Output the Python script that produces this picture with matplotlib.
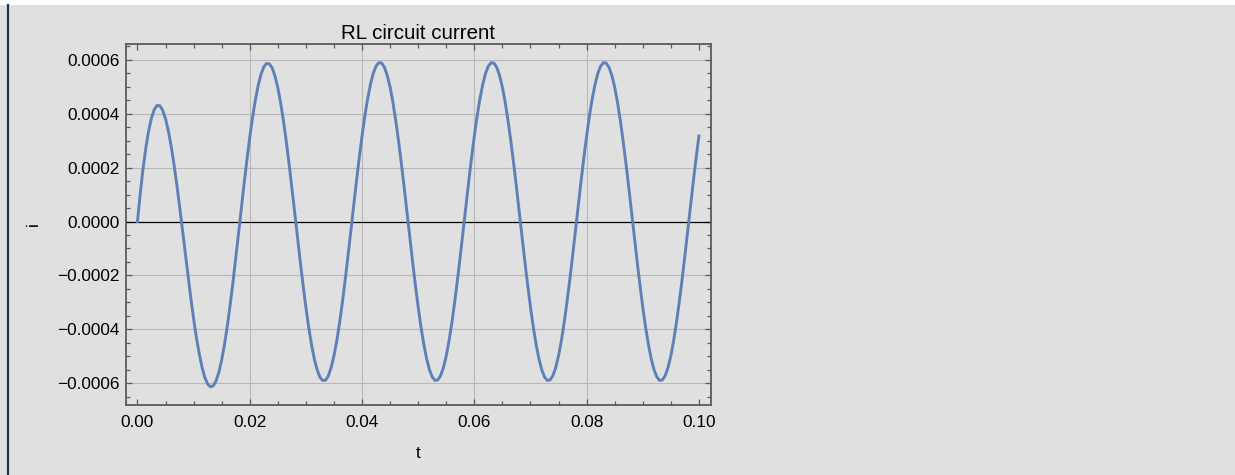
import numpy as np
import matplotlib.pyplot as plt
from matplotlib.ticker import MultipleLocator, FuncFormatter
from matplotlib.lines import Line2D
from matplotlib.patches import Rectangle

plt.rcParams['font.family'] = ['Liberation Sans', 'DejaVu Sans']

# time samples, every 0.0005 s from 0 to 0.1 s
t = np.linspace(0.0, 0.1, 201)

# current, in units of 1e-4 A
current_e4 = [
    0.00, 1.04, 1.96, 2.74, 3.36, 3.84, 4.15, 4.30, 4.29, 4.12,
    3.81, 3.36, 2.80, 2.13, 1.38, 0.57, -0.28, -1.14, -2.00, -2.83,
    -3.60, -4.30, -4.90, -5.40, -5.78, -6.02, -6.13, -6.09, -5.91, -5.59,
    -5.13, -4.56, -3.88, -3.11, -2.27, -1.37, -0.45, 0.49, 1.41, 2.29,
    3.11, 3.86, 4.50, 5.04, 5.45, 5.73, 5.86, 5.84, 5.69, 5.39,
    4.96, 4.40, 3.74, 2.98, 2.15, 1.26, 0.35, -0.58, -1.49, -2.36,
    -3.18, -3.92, -4.56, -5.09, -5.49, -5.77, -5.89, -5.88, -5.72, -5.41,
    -4.98, -4.42, -3.76, -3.00, -2.16, -1.28, -0.36, 0.56, 1.48, 2.35,
    3.17, 3.91, 4.55, 5.08, 5.49, 5.76, 5.89, 5.87, 5.71, 5.41,
    4.98, 4.42, 3.75, 2.99, 2.16, 1.28, 0.36, -0.57, -1.48, -2.35,
    -3.17, -3.91, -4.55, -5.08, -5.49, -5.76, -5.89, -5.87, -5.71, -5.41,
    -4.98, -4.42, -3.75, -2.99, -2.16, -1.28, -0.36, 0.57, 1.48, 2.35,
    3.17, 3.91, 4.55, 5.08, 5.49, 5.76, 5.89, 5.87, 5.71, 5.41,
    4.98, 4.42, 3.75, 2.99, 2.16, 1.28, 0.36, -0.57, -1.48, -2.35,
    -3.17, -3.91, -4.55, -5.08, -5.49, -5.76, -5.89, -5.87, -5.71, -5.41,
    -4.98, -4.42, -3.75, -2.99, -2.16, -1.28, -0.36, 0.57, 1.48, 2.35,
    3.17, 3.91, 4.55, 5.08, 5.49, 5.76, 5.89, 5.87, 5.71, 5.41,
    4.98, 4.42, 3.75, 2.99, 2.16, 1.28, 0.36, -0.57, -1.48, -2.35,
    -3.17, -3.91, -4.55, -5.08, -5.49, -5.76, -5.89, -5.87, -5.71, -5.41,
    -4.98, -4.42, -3.75, -2.99, -2.16, -1.28, -0.36, 0.57, 1.48, 2.35,
    3.17,
]
current = np.array(current_e4) * 1e-4

t_ticks = [0.00, 0.02, 0.04, 0.06, 0.08, 0.10]
i_ticks = [-0.0006, -0.0004, -0.0002, 0.0, 0.0002, 0.0004, 0.0006]
t_grid = [0.02, 0.04, 0.06, 0.08]
i_grid = [-0.0006, -0.0004, -0.0002, 0.0002, 0.0004, 0.0006]

bg = '#e0e0e0'
frame_col = '#5a5a5a'

fig = plt.figure(figsize=(12.35, 4.75), dpi=100, facecolor=bg)
ax = fig.add_axes([0.10202, 0.14737, 0.47344, 0.76063])
ax.set_facecolor(bg)

# white strip on top and the dark bar on the left edge
fig.patches.append(Rectangle((0, 1 - 4.5 / 475), 1, 4.5 / 475, transform=fig.transFigure,
                             facecolor='white', edgecolor='none'))
fig.lines.append(Line2D([8 / 1235, 8 / 1235], [0, 1 - 4.5 / 475], transform=fig.transFigure,
                        color='#1b3155', lw=1.6))

for g in t_grid:
    ax.axvline(g, color='#b9b9b9', lw=0.8, zorder=1)
for g in i_grid:
    ax.axhline(g, color='#b9b9b9', lw=0.8, zorder=1)
ax.axhline(0, color='black', lw=0.9, zorder=2)

ax.plot(t, current, color='#5e81b5', lw=2.1, zorder=3)

ax.set_xlim(-0.00204, 0.1021)
ax.set_ylim(-0.00068, 0.000659)

ax.set_xticks(t_ticks)
ax.set_yticks(i_ticks)
ax.xaxis.set_minor_locator(MultipleLocator(0.005))
ax.yaxis.set_minor_locator(MultipleLocator(0.00005))
ax.xaxis.set_major_formatter(FuncFormatter(lambda v, p: '%.2f' % v))
ax.yaxis.set_major_formatter(FuncFormatter(lambda v, p: ('%.4f' % v).replace('-', '\u2212')))

ax.tick_params(which='both', direction='in', top=True, right=True,
               color=frame_col, width=0.9, labelsize=12.4)
ax.tick_params(which='major', length=4.5)
ax.tick_params(which='minor', length=2.8)
ax.tick_params(axis='x', pad=7)
ax.tick_params(axis='y', pad=4.8)
for s in ax.spines.values():
    s.set_color(frame_col)
    s.set_linewidth(1.3)

ax.set_title('RL circuit current', fontsize=14.8, pad=3.2)
ax.set_xlabel('t', fontsize=12.4, va='center')
ax.xaxis.set_label_coords(0.5, -0.1356)
ax.set_ylabel('i', fontsize=12.4, rotation=90, va='center', ha='center')
ax.yaxis.set_label_coords(-0.158, 0.501)

fig.savefig('out.png', dpi=100, facecolor=bg)
